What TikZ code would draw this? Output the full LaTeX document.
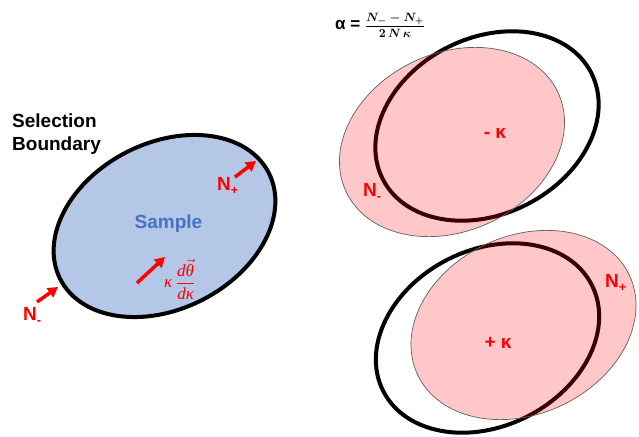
\documentclass[tikz,border=0pt]{standalone}
\usepackage{amsmath}
\usepackage{graphicx}
\usepackage{fontspec}
\setmainfont{Liberation Sans}
\newfontfamily\lserif{Liberation Serif}
\usetikzlibrary{arrows.meta}
\definecolor{sampleblue}{HTML}{B4C7E7}
\definecolor{textblue}{HTML}{4472C4}
\definecolor{pinkedge}{HTML}{5F5F5F}
\newcommand{\Nsub}[1]{N\raisebox{-4.5pt}{\fontsize{12.5}{12.5}\selectfont #1}}
\begin{document}
\begin{tikzpicture}[x=1pt,y=-1pt,
  bound/.style={draw=black, line width=4pt},
  pinkell/.style={fill=red, fill opacity=0.22, draw=pinkedge, draw opacity=1, line width=0.7pt},
  redarrow/.style={draw=red, line width=3.5pt, -{Triangle[length=10pt,width=11pt]}},
  lbl/.style={font=\fontsize{19}{23}\selectfont\bfseries, inner sep=0pt},
  redlbl/.style={lbl, text=red},
]
\useasboundingbox (0,0) rectangle (639,436);

% left sample ellipse
\draw[bound, fill=sampleblue, shift={(164.5,226)}, rotate=27] (0,0) ellipse [x radius=117pt, y radius=83pt];

% upper pair
\draw[bound, shift={(487,126)}, rotate=27] (0,0) ellipse [x radius=117pt, y radius=88pt];
\draw[pinkell, shift={(452,142)}, rotate=25] (0,0) ellipse [x radius=117pt, y radius=89pt];

% lower pair
\draw[bound, shift={(487.5,338)}, rotate=27] (0,0) ellipse [x radius=117pt, y radius=88pt];
\draw[pinkell, shift={(523.5,325)}, rotate=25] (0,0) ellipse [x radius=117pt, y radius=89pt];

% labels
\node[lbl, anchor=north west, align=left] (sel) at (12,114) {Selection\\Boundary};
\node[lbl, text=textblue, anchor=base] (sample) at (168.5,228) {Sample};
\node[redlbl, anchor=base west] (nplusL) at (217,190) {\Nsub{+}};
\node[redlbl, anchor=base west] (nminusL) at (23,320) {\Nsub{-}};
\node[redlbl, anchor=base west] (nminusU) at (363,196) {\Nsub{-}};
\node[redlbl, anchor=base west] (nplusR) at (605,287) {\Nsub{+}};
\node[redlbl, anchor=base] (mk) at (495,138) {- κ};
\node[redlbl, anchor=base] (pk) at (498,348) {+ κ};
\node[text=red, inner sep=0pt, anchor=base west] (dtheta) at (164,287.5) {\scalebox{1.7}{\lserif\itshape κ\,$\dfrac{\text{d}\vec{\text{θ}}}{\text{dκ}}$}};
\node[lbl, font=\fontsize{17}{20}\selectfont\bfseries, anchor=base west] (alpha) at (335,29.5) {α =};
\node[inner sep=0pt, anchor=base west] (frac) at ([xshift=4pt]alpha.base east) {\scalebox{1.2}{$\dfrac{\boldsymbol{N_{-}-N_{+}}}{\boldsymbol{2\,N\,\kappa}}$}};

% arrows
\coordinate (a1s) at (235,177); \coordinate (a1e) at (256,161);
\coordinate (a2s) at (37,302); \coordinate (a2e) at (58,287);
\coordinate (a3s) at (137,283); \coordinate (a3e) at (165,257);
\draw[redarrow] (a1s) -- (a1e);
\draw[redarrow] (a2s) -- (a2e);
\draw[redarrow] (a3s) -- (a3e);
\end{tikzpicture}
\end{document}
